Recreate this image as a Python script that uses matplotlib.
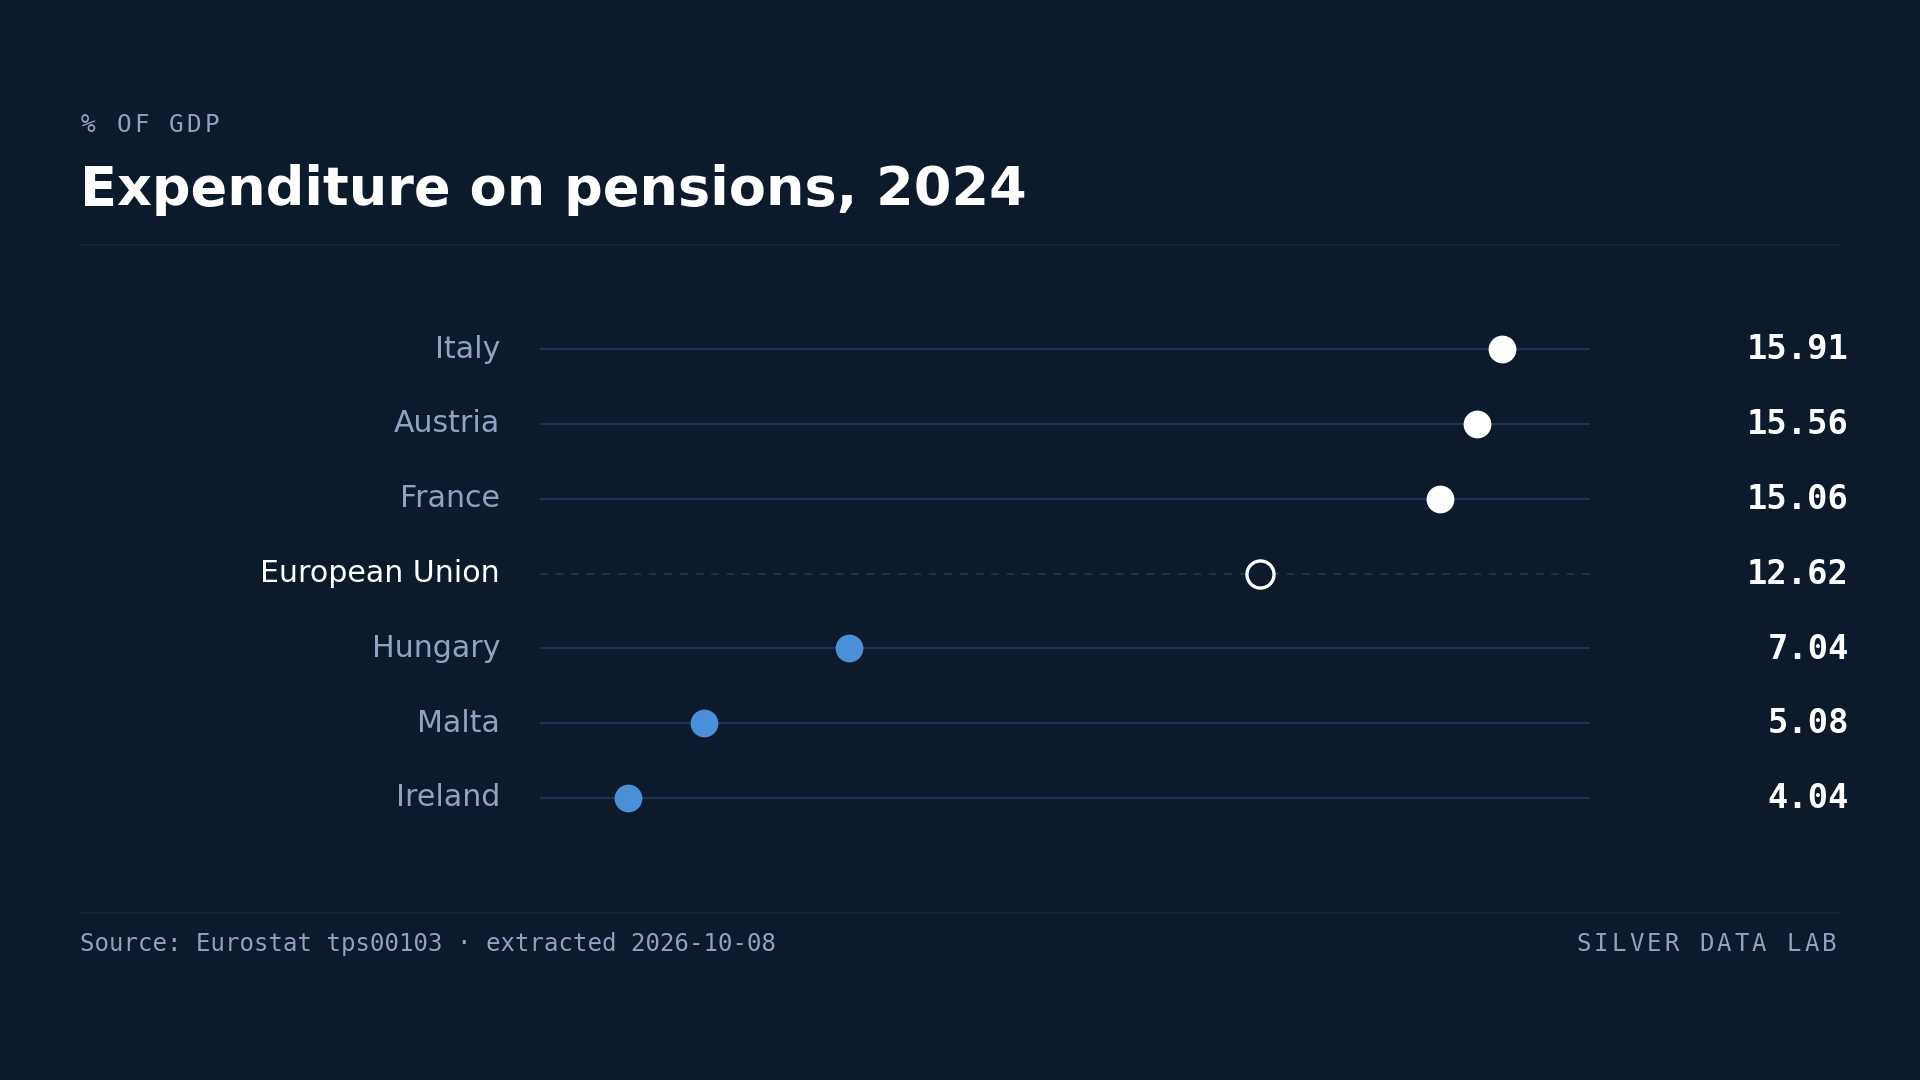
import matplotlib
matplotlib.use("Agg")
import matplotlib.pyplot as plt
from matplotlib import transforms
from matplotlib.lines import Line2D

# data
countries = ["Italy", "Austria", "France", "European Union", "Hungary", "Malta", "Ireland"]
values = [15.91, 15.56, 15.06, 12.62, 7.04, 5.08, 4.04]
value_labels = ["15.91", "15.56", "15.06", "12.62", "7.04", "5.08", "4.04"]
groups = ["high", "high", "high", "eu", "low", "low", "low"]

BG = "#0d1a2b"
TRACK = "#1e3350"
RULE = "#17263a"
MUTED = "#8ea3bf"
WHITE = "#ffffff"
BLUE = "#4a8fd8"

W, H = 1920, 1080
fig = plt.figure(figsize=(19.2, 10.8), dpi=100, facecolor=BG)


def fx(px):
    return px / W


def fy(py):
    return 1 - py / H


def spaced(x, y, s, step, size, color, align="left"):
    # draw letter-spaced monospace text one char at a time
    if align == "right":
        x = x - step * (len(s) - 1) - size * 100 / 72 * 0.602
    for i, ch in enumerate(s):
        fig.text(fx(x + i * step), fy(y), ch, fontsize=size, color=color,
                 family="DejaVu Sans Mono", va="center", ha="left")


# header
spaced(81, 125, "% OF GDP", 17.6, 17.5, MUTED)
fig.text(fx(80), fy(189.5), "Expenditure on pensions, 2024", fontsize=39,
         fontweight="bold", color=WHITE, va="center", ha="left")
fig.add_artist(Line2D([fx(81), fx(1840)], [fy(245), fy(245)], color=RULE, lw=1.2,
                      transform=fig.transFigure))

# dot plot axes
top, bottom = 349 - 37.4, 798 + 37.4
ax = fig.add_axes([fx(540), fy(bottom), fx(1590) - fx(540), (bottom - top) / H])
ax.set_facecolor(BG)
n = len(countries)
lo, hi = min(values), max(values)
pad = (hi - lo) * 0.1
ax.set_xlim(lo - pad, hi + pad)
ax.set_ylim(n - 0.5, -0.5)
ax.axis("off")

lab_tr = transforms.blended_transform_factory(fig.transFigure, ax.transData)
for i, (c, v, vl, g) in enumerate(zip(countries, values, value_labels, groups)):
    if g == "eu":
        ax.plot([lo - pad, hi + pad], [i, i], color=TRACK, lw=1.4, ls=(0, (4, 4)), zorder=1)
        ax.scatter([v], [i], s=380, facecolor=BG, edgecolor=WHITE, linewidth=2.4, zorder=3)
        lc = WHITE
    else:
        ax.plot([lo - pad, hi + pad], [i, i], color=TRACK, lw=1.6, zorder=1)
        ax.scatter([v], [i], s=400, color=WHITE if g == "high" else BLUE,
                   linewidth=0, zorder=3)
        lc = MUTED
    ax.text(fx(500), i, c, transform=lab_tr, ha="right", va="center",
            fontsize=21.6, color=lc)
    ax.text(fx(1849), i + 0.01, vl, transform=lab_tr, ha="right", va="center",
            fontsize=24.3, color=WHITE, fontweight="bold", family="DejaVu Sans Mono")

# footer
fig.add_artist(Line2D([fx(81), fx(1838)], [fy(913), fy(913)], color=RULE, lw=1.2,
                      transform=fig.transFigure))
fig.text(fx(80), fy(944), "Source: Eurostat tps00103 \u00b7 extracted 2026-10-08",
         fontsize=17.25, color=MUTED, family="DejaVu Sans Mono", va="center", ha="left")
spaced(1836, 944, "SILVER DATA LAB", 17.5, 17.25, MUTED, align="right")

fig.savefig("out.png", dpi=100, facecolor=BG)
